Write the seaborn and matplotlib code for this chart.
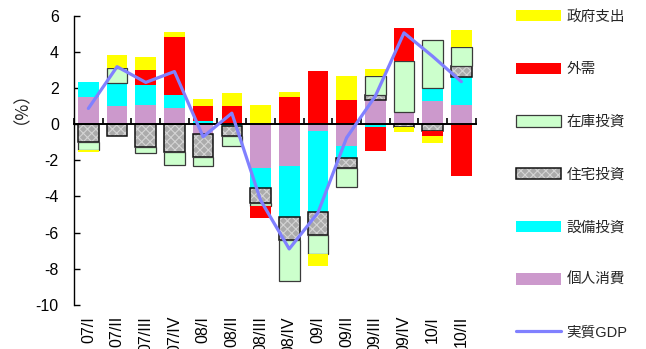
import numpy as np
import pandas as pd
import matplotlib
matplotlib.use("Agg")
import matplotlib.pyplot as plt
import seaborn as sns
from matplotlib.patches import Patch
from matplotlib.lines import Line2D
from matplotlib.legend_handler import HandlerTuple

# Contributions to real GDP growth (percentage points), by quarter
quarters = ["07/I", "07/II", "07/III", "07/IV", "08/I", "08/II", "08/III",
            "08/IV", "09/I", "09/II", "09/III", "09/IV", "10/I", "10/II"]
consumption = [1.52, 1.00, 1.07, 0.89, -0.55, 0.00, -2.45, -2.32, -0.37, -1.20, 1.35, 0.65, 1.30, 1.07]
capex = [0.83, 1.26, 1.11, 0.74, 0.15, -0.10, -1.10, -2.83, -4.48, -0.65, -0.18, 0.00, 0.69, 1.52]
housing = [-1.00, -0.63, -1.24, -1.54, -1.26, -0.58, -0.80, -1.24, -1.26, -0.55, 0.28, -0.18, -0.37, 0.63]
inventory = [-0.43, 0.83, -0.37, -0.70, -0.50, -0.50, -0.17, -2.30, -1.06, -1.05, 1.05, 2.83, 2.67, 1.07]
net_exports = [0.00, 0.00, 0.83, 3.17, 0.83, 0.98, -0.67, 1.48, 2.92, 1.35, -1.33, 1.85, -0.28, -2.85]
government = [-0.10, 0.76, 0.72, 0.28, 0.43, 0.72, 1.07, 0.28, -0.65, 1.33, 0.37, -0.27, -0.40, 0.89]
real_gdp = [0.87, 3.18, 2.31, 2.91, -0.70, 0.61, -4.20, -6.90, -4.90, -0.75, 1.55, 5.05, 3.75, 2.35]

sns.set_theme(style="white")
plt.rcParams["font.family"] = ["Liberation Sans", "Noto Sans CJK JP", "DejaVu Sans"]
plt.rcParams["axes.unicode_minus"] = False
plt.rcParams["hatch.linewidth"] = 0.8

C_CONS = "#CC99CC"
C_CAPEX = "#00FFFF"
C_HOUSE = "#ABABAB"
C_HOUSE_HATCH = "#D4D4D4"
C_INV = "#CCFFCC"
C_EXT = "#FF0000"
C_GOV = "#FFFF00"
C_GDP = "#8080FF"

fig = plt.figure(figsize=(6.46, 3.49), dpi=100)
ax = fig.add_axes([0.1146, 0.1261, 0.6218, 0.829])

n = len(quarters)
bar_w = 0.72
pos_base = np.zeros(n)
neg_base = np.zeros(n)

# stacking order, from the zero line outwards
components = [
    ("個人消費", consumption),
    ("設備投資", capex),
    ("住宅投資", housing),
    ("在庫投資", inventory),
    ("外需", net_exports),
    ("政府支出", government),
]

for name, vals in components:
    v = np.asarray(vals, dtype=float)
    bottom = np.where(v >= 0, pos_base, neg_base)
    df = pd.DataFrame({"quarter": quarters, "value": v})
    common = dict(data=df, x="quarter", y="value", bottom=bottom, width=bar_w,
                  errorbar=None, saturation=1, ax=ax)
    if name == "個人消費":
        sns.barplot(color=C_CONS, linewidth=0, **common)
    elif name == "設備投資":
        sns.barplot(color=C_CAPEX, linewidth=0, **common)
    elif name == "住宅投資":
        sns.barplot(color=C_HOUSE, edgecolor=C_HOUSE_HATCH, linewidth=0,
                    hatch="xxxx", **common)
        sns.barplot(color="#111111", fill=False, linewidth=1.1, **common)
    elif name == "在庫投資":
        sns.barplot(color=C_INV, edgecolor="#3A3A3A", linewidth=0.9, **common)
    elif name == "外需":
        sns.barplot(color=C_EXT, linewidth=0, **common)
    else:
        sns.barplot(color=C_GOV, linewidth=0, **common)
    pos_base += np.clip(v, 0, None)
    neg_base += np.clip(v, None, 0)

sns.lineplot(x=np.arange(n), y=real_gdp, color=C_GDP, linewidth=2.3, ax=ax, zorder=5)

ax.set_xlim(-0.5, n - 0.5)
ax.set_ylim(-10, 6)
ax.set_yticks(np.arange(-10, 7, 2))
ax.set_xlabel("")
ax.set_ylabel("")

# zero line with category boundary ticks
ax.spines["bottom"].set_position(("data", 0))
ax.spines["bottom"].set_color("black")
ax.spines["bottom"].set_linewidth(1.4)
ax.spines["bottom"].set_zorder(4)
ax.set_xticks(np.arange(-0.5, n, 1.0))
ax.set_xticklabels([])
ax.tick_params(axis="x", direction="in", length=4, width=1.2, color="black",
               bottom=True)
ax.spines["left"].set_color("black")
ax.spines["left"].set_linewidth(1.0)
ax.spines["top"].set_visible(False)
ax.spines["right"].set_visible(False)
ax.tick_params(axis="y", direction="in", length=4, width=1.0, color="black",
               left=True, labelsize=11.5, pad=11, labelcolor="black")

# quarter labels along the bottom edge
sec = ax.secondary_xaxis("bottom")
sec.set_xticks(np.arange(n))
sec.set_xticklabels(quarters, rotation=90, fontsize=11.5, color="black")
sec.tick_params(length=0, pad=8)
sec.spines["bottom"].set_visible(False)

fig.text(12 / 646, 1 - 99 / 349, "（%）", rotation=90, ha="center", va="center",
         fontsize=12.5, family=["Noto Sans CJK JP"], color="#222222")

handles = [
    Patch(facecolor=C_GOV, edgecolor="none"),
    Patch(facecolor=C_EXT, edgecolor="none"),
    Patch(facecolor=C_INV, edgecolor="#3A3A3A", linewidth=0.9),
    (Patch(facecolor=C_HOUSE, edgecolor=C_HOUSE_HATCH, linewidth=0, hatch="xxxx"),
     Patch(facecolor="none", edgecolor="#111111", linewidth=1.1)),
    Patch(facecolor=C_CAPEX, edgecolor="none"),
    Patch(facecolor=C_CONS, edgecolor="none"),
    Line2D([], [], color=C_GDP, linewidth=2.3),
]
labels = ["政府支出", "外需", "在庫投資", "住宅投資", "設備投資", "個人消費", "実質GDP"]
ax.legend(handles, labels, loc="center left",
          bbox_to_anchor=(516 / 646, 1 - 174.7 / 349), bbox_transform=fig.transFigure,
          frameon=False, fontsize=10.5, handlelength=3.1, handleheight=0.8,
          labelspacing=2.65, handletextpad=0.35, borderpad=0, borderaxespad=0,
          handler_map={tuple: HandlerTuple(ndivide=1, pad=0)})

fig.savefig("out.png", dpi=100)
